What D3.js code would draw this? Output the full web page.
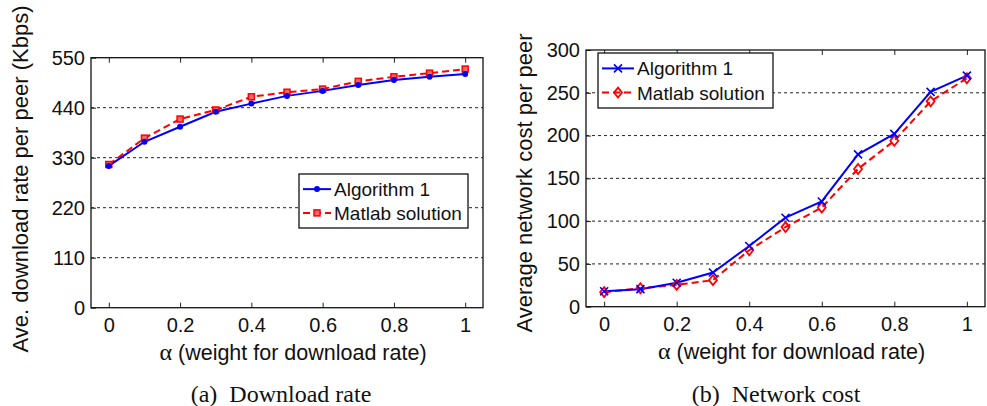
<!DOCTYPE html>
<html>
<head>
<meta charset="utf-8">
<script src="https://cdn.jsdelivr.net/npm/d3@7"></script>
<style>
  body { margin: 0; background: #fff; }
  text { font-family: "Liberation Sans", Arial, sans-serif; fill: #111; }
  .caption, .greek { font-family: "Liberation Serif", "Times New Roman", serif; }
</style>
</head>
<body>
<svg id="chart" width="987" height="406"></svg>
<script>
// data
const alpha = [0, 0.1, 0.2, 0.3, 0.4, 0.5, 0.6, 0.7, 0.8, 0.9, 1];
const rateAlg = [312, 365, 398, 431, 449, 466, 477, 490, 501, 508, 514];
const rateMatlab = [315, 373, 415, 435, 464, 474, 481, 498, 508, 516, 525];
const costAlg = [18, 20.5, 28, 40, 71, 104, 123, 178, 202, 251, 270];
const costMatlab = [17, 21.5, 25.5, 31, 66, 93, 116, 161, 194, 240, 267];
const xTicks = [0, 0.2, 0.4, 0.6, 0.8, 1];
const rateTicks = [0, 110, 220, 330, 440, 550];
const costTicks = [0, 50, 100, 150, 200, 250, 300];
const seriesNames = ['Algorithm 1', 'Matlab solution'];

const svg = d3.select('#chart');
const blue = '#0000ff';
const red = '#ff0000';

function drawPanel(opt) {
  const g = svg.append('g');
  const x = d3.scaleLinear().domain([-0.05, 1.05]).range([opt.left, opt.right]);
  const y = d3.scaleLinear().domain(opt.yDomain).range([opt.bottom, opt.top]);

  // grid
  g.selectAll('.grid')
    .data(opt.yTicks.filter(d => d > opt.yDomain[0] && d < opt.yDomain[1]))
    .enter()
    .append('line')
      .attr('x1', opt.left).attr('x2', opt.right)
      .attr('y1', d => y(d)).attr('y2', d => y(d))
      .attr('stroke', '#222').attr('stroke-width', 1)
      .attr('stroke-dasharray', '3,3');

  // axes (matlab style, ticks inside)
  const axB = g.append('g').attr('transform', `translate(0,${opt.bottom})`)
    .call(d3.axisBottom(x).tickValues(xTicks).tickSize(-5).tickPadding(10).tickFormat(d3.format('~g')));
  const axT = g.append('g').attr('transform', `translate(0,${opt.top})`)
    .call(d3.axisTop(x).tickValues(xTicks).tickSize(-5).tickFormat(''));
  const axL = g.append('g').attr('transform', `translate(${opt.left},0)`)
    .call(d3.axisLeft(y).tickValues(opt.yTicks).tickSize(-5).tickPadding(6));
  [axB, axT, axL].forEach(a => {
    a.select('.domain').remove();
    a.selectAll('line').attr('stroke', '#222');
    a.selectAll('text').style('font-size', '20px').attr('fill', '#111');
  });

  g.append('rect')
    .attr('x', opt.left).attr('y', opt.top)
    .attr('width', opt.right - opt.left).attr('height', opt.bottom - opt.top)
    .attr('fill', 'none').attr('stroke', '#111').attr('stroke-width', 1.3);

  const line = d3.line().x((d, i) => x(alpha[i])).y(d => y(d));

  g.append('path').datum(opt.series[1])
    .attr('d', line).attr('fill', 'none')
    .attr('stroke', red).attr('stroke-width', 2).attr('stroke-dasharray', '7,4');
  g.append('path').datum(opt.series[0])
    .attr('d', line).attr('fill', 'none')
    .attr('stroke', blue).attr('stroke-width', 2);

  const pts = (vals) => vals.map((v, i) => [x(alpha[i]), y(v)]);
  opt.markers[1](g, pts(opt.series[1]));
  opt.markers[0](g, pts(opt.series[0]));

  // labels
  const xl = g.append('text')
    .attr('x', (opt.left + opt.right) / 2 + 6).attr('y', opt.bottom + 52)
    .attr('text-anchor', 'middle').style('font-size', '21.5px');
  xl.append('tspan').attr('class', 'greek').style('font-size', '24px').text('\u03b1');
  xl.append('tspan').text(' (weight for download rate)');
  g.append('text')
    .attr('transform', `translate(${opt.yLabelX},${opt.yLabelY}) rotate(-90)`)
    .attr('text-anchor', 'middle').style('font-size', '22px')
    .text(opt.yLabel);
  g.append('text').attr('class', 'caption')
    .attr('x', opt.captionX).attr('y', 402)
    .attr('text-anchor', 'middle').style('font-size', '24px')
    .attr('xml:space', 'preserve')
    .text(opt.caption);

  // legend
  const lg = opt.legend;
  g.append('rect')
    .attr('x', lg.x).attr('y', lg.y).attr('width', lg.w).attr('height', lg.h)
    .attr('fill', '#fff').attr('stroke', '#111').attr('stroke-width', 1.3);
  seriesNames.forEach((name, i) => {
    const ly = lg.y + lg.h * (i === 0 ? 0.28 : 0.72);
    g.append('line')
      .attr('x1', lg.x + 4).attr('x2', lg.x + lg.lineW)
      .attr('y1', ly).attr('y2', ly)
      .attr('stroke', i === 0 ? blue : red).attr('stroke-width', 2)
      .attr('stroke-dasharray', i === 0 ? null : '7,4');
    opt.markers[i](g, [[lg.x + 4 + (lg.lineW - 4) / 2, ly]]);
    g.append('text')
      .attr('x', lg.x + lg.lineW + 3).attr('y', ly + 7)
      .style('font-size', '19px').text(name);
  });
}

function dots(g, p) {
  g.selectAll(null).data(p).enter().append('circle')
    .attr('cx', d => d[0]).attr('cy', d => d[1]).attr('r', 3).attr('fill', blue);
}
function squares(g, p) {
  g.selectAll(null).data(p).enter().append('rect')
    .attr('x', d => d[0] - 3).attr('y', d => d[1] - 3)
    .attr('width', 6).attr('height', 6)
    .attr('fill', '#ff6666').attr('stroke', red).attr('stroke-width', 1.5);
}
function crosses(g, p) {
  g.selectAll(null).data(p).enter().append('path')
    .attr('d', d => `M${d[0] - 4},${d[1] - 4}L${d[0] + 4},${d[1] + 4}M${d[0] - 4},${d[1] + 4}L${d[0] + 4},${d[1] - 4}`)
    .attr('stroke', blue).attr('stroke-width', 1.6).attr('fill', 'none');
}
function diamonds(g, p) {
  g.selectAll(null).data(p).enter().append('path')
    .attr('d', d => `M${d[0]},${d[1] - 5}L${d[0] + 4},${d[1]}L${d[0]},${d[1] + 5}L${d[0] - 4},${d[1]}Z`)
    .attr('stroke', red).attr('stroke-width', 1.8).attr('fill', 'none');
}

drawPanel({
  left: 91, right: 483, top: 57.7, bottom: 307.7,
  yDomain: [0, 550], yTicks: rateTicks,
  series: [rateAlg, rateMatlab],
  markers: [dots, squares],
  yLabel: 'Ave. download rate per peer (Kbps)', yLabelX: 28, yLabelY: 179,
  caption: '(a)\u00a0\u00a0Download rate', captionX: 281,
  legend: { x: 299, y: 174, w: 169, h: 54, lineW: 32 }
});

drawPanel({
  left: 586, right: 985, top: 50, bottom: 306.7,
  yDomain: [0, 300], yTicks: costTicks,
  series: [costAlg, costMatlab],
  markers: [crosses, diamonds],
  yLabel: 'Average network cost per peer', yLabelX: 532, yLabelY: 183,
  caption: '(b)\u00a0\u00a0Network cost', captionX: 776,
  legend: { x: 598, y: 53, w: 175, h: 55, lineW: 36 }
});
</script>
</body>
</html>
